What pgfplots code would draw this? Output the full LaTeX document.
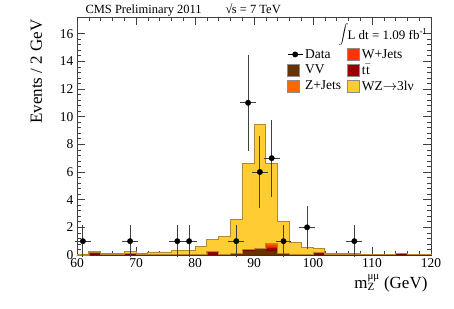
\documentclass[border=0pt]{standalone}
\usepackage{pgfplots}
\pgfplotsset{compat=1.18}
\usepackage{pgfplotstable}
\usepackage{fontspec}
\setmainfont{Liberation Serif}
\definecolor{wzc}{HTML}{FFCC33}
\definecolor{wzline}{HTML}{B8862E}
\definecolor{zjc}{HTML}{FF6600}
\definecolor{wjc}{HTML}{FF3300}
\definecolor{ttc}{HTML}{990000}
\definecolor{vvc}{HTML}{663300}
\pgfplotstableread{
x vv tt wj zj wz
60 0.00 0.00 0 0 0.02
62 0.03 0.15 0 0 0.07
64 0.03 0.00 0 0 0.07
66 0.03 0.00 0 0 0.07
68 0.03 0.12 0 0 0.10
70 0.02 0.00 0 0 0.10
72 0.02 0.00 0 0 0.20
74 0.02 0.00 0 0 0.20
76 0.03 0.00 0 0 0.27
78 0.03 0.00 0 0 0.27
80 0.05 0.00 0 0 0.55
82 0.05 0.22 0 0 0.83
84 0.05 0.00 0 0 1.30
86 0.10 0.00 0 0 2.50
88 0.35 0.07 0 0 6.20
90 0.50 0.00 0 0 8.95
92 0.35 0.20 0.15 0.12 5.80
94 0.10 0.00 0 0 2.30
96 0.03 0.00 0 0 0.90
98 0.03 0.00 0 0 0.53
100 0.03 0.15 0 0 0.27
102 0.02 0.00 0 0 0.10
104 0.02 0.00 0 0 0.08
106 0.02 0.00 0 0 0.08
108 0.02 0.00 0 0 0.05
110 0.02 0.00 0 0 0.05
112 0.02 0.00 0 0 0.05
114 0.03 0.08 0 0 0.02
116 0.02 0.00 0 0 0.03
118 0.02 0.00 0 0 0.03
120 0.02 0.00 0 0 0.03
}\bkg
\begin{document}
\begin{tikzpicture}
\begin{axis}[
  scale only axis, width=354pt, height=238pt,
  xmin=60, xmax=120, ymin=0, ymax=17.2,
  xtick={60,70,...,120}, ytick={0,2,...,16},
  minor x tick num=4, minor y tick num=4,
  tick align=inside,
  major tick length=8pt, minor tick length=4pt,
  axis line style={black!75, line width=0.7pt},
  every tick/.style={black!75, line width=0.6pt},
  tick label style={font=\fontsize{13.5}{15}\selectfont},
  /pgf/number format/assume math mode=true,
  legend columns=2,
  legend style={at={(0.585,0.882)}, anchor=north west, draw=none, fill=none,
    font=\fontsize{13.5}{16}\selectfont, row sep=1pt,
    /tikz/every even column/.append style={column sep=4pt}},
  legend cell align=left,
  clip=false,
]
\addplot[stack plots=y, const plot mark left, fill=vvc, draw=vvc!80!black, line width=0.6pt, forget plot] table[x=x,y=vv] {\bkg} \closedcycle;
\addplot[stack plots=y, const plot mark left, fill=ttc, draw=ttc!80!black, line width=0.6pt, forget plot] table[x=x,y=tt] {\bkg} \closedcycle;
\addplot[stack plots=y, const plot mark left, fill=wjc, draw=wjc!80!black, line width=0.6pt, forget plot] table[x=x,y=wj] {\bkg} \closedcycle;
\addplot[stack plots=y, const plot mark left, fill=zjc, draw=zjc!80!black, line width=0.6pt, forget plot] table[x=x,y=zj] {\bkg} \closedcycle;
\addplot[stack plots=y, const plot mark left, fill=wzc, draw=wzline, line width=0.8pt, forget plot] table[x=x,y=wz] {\bkg} \closedcycle;
\addplot[stack plots=false, black, only marks, mark=*, mark size=2.7pt, forget plot,
  error bars/.cd, x dir=both, x explicit, y dir=both, y explicit,
  error bar style={black!75, line width=0.9pt},
  error mark options={black!75, mark size=2pt, line width=0.9pt}]
coordinates {
(61,1) +- (1,1)
(69,1) +- (1,1)
(77,1) +- (1,1)
(79,1) +- (1,1)
(87,1) +- (1,1)
(89,11) +- (1,3.317)
(91,6) +- (1,2.449)
(93,7) +- (1,2.646)
(95,1) +- (1,1)
(99,2) +- (1,1.414)
(107,1) +- (1,1)
};
\addlegendimage{black, legend image code/.code={\draw[black, line width=0.8pt] (0pt,0pt)--(15pt,0pt); \fill[black] (7.5pt,0pt) circle (2.7pt);}}
\addlegendentry{Data}
\addlegendimage{legend image code/.code={\draw[fill=wjc, draw=black!45, line width=0.6pt] (0pt,-6pt) rectangle (12pt,6pt);}}
\addlegendentry{W+Jets}
\addlegendimage{legend image code/.code={\draw[fill=vvc, draw=black!45, line width=0.6pt] (0pt,-6pt) rectangle (12pt,6pt);}}
\addlegendentry{VV}
\addlegendimage{legend image code/.code={\draw[fill=ttc, draw=black!45, line width=0.6pt] (0pt,-6pt) rectangle (12pt,6pt);}}
\addlegendentry{t\kern0.5pt$\bar{\mbox{t}}$}
\addlegendimage{legend image code/.code={\draw[fill=zjc, draw=black!45, line width=0.6pt] (0pt,-6pt) rectangle (12pt,6pt);}}
\addlegendentry{Z+Jets}
\addlegendimage{legend image code/.code={\draw[fill=wzc, draw=black!45, line width=0.6pt] (0pt,-6pt) rectangle (12pt,6pt);}}
\addlegendentry{WZ$\rightarrow$3lν}
\node[anchor=base west, font=\fontsize{12.5}{14}\selectfont] at (rel axis cs:0,1) [xshift=5pt, yshift=3.5pt] {CMS Preliminary 2011};
\node[anchor=base west, font=\fontsize{12.5}{14}\selectfont] at (rel axis cs:0,1) [xshift=145pt, yshift=3pt] {√\kern-0.5pt s = 7 TeV};
\node[anchor=base west, font=\fontsize{13}{15}\selectfont] at (rel axis cs:0,1) [xshift=258pt, yshift=-22pt] {{\fontsize{17}{18}\selectfont$\displaystyle\int$}\kern-1pt L dt = 1.09 fb$^{\mbox{\fontsize{9}{10}\selectfont -1}}$};
\node[xshift=-35pt, yshift=1pt, rotate=90, anchor=base east, font=\fontsize{17}{20}\selectfont] at (rel axis cs:0,1) {Events / 2 GeV};
\node[anchor=base east, font=\fontsize{17}{20}\selectfont] at (rel axis cs:1,0) [yshift=-33pt] {m$_{\mbox{\fontsize{11}{12}\selectfont Z}}^{\mbox{\fontsize{11}{12}\selectfont μμ}}$ (GeV)};
\end{axis}
\pgfresetboundingbox
\path (current axis.south west) +(-77pt,-53pt) (current axis.north east) +(23pt,17pt);
\end{tikzpicture}
\end{document}
